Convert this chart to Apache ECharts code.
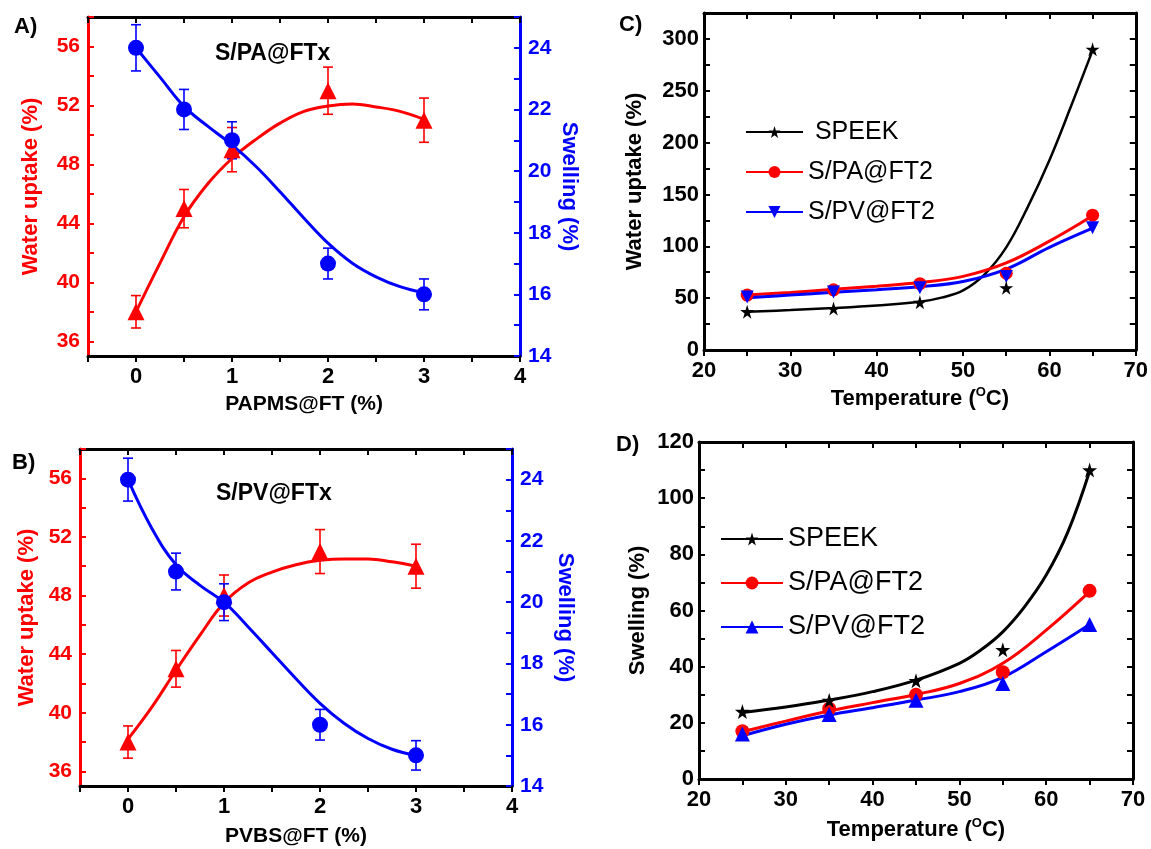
<!DOCTYPE html>
<html><head><meta charset="utf-8">
<script src="https://cdn.jsdelivr.net/npm/echarts@6/dist/echarts.min.js"></script>
<style>html,body{margin:0;padding:0;background:#fff}#c{width:1151px;height:849px}</style>
</head><body><div id="c"></div>
<script>
// ---------- Panel A / B data (content %) ----------
const loadX = [0, 0.5, 1, 2, 3];
const aWater = [38, 45, 49, 53, 51];
const aWaterErr = [1.1, 1.3, 1.5, 1.6, 1.5];
const aSwell = [24, 22, 21, 17, 16];
const aSwellErr = [0.75, 0.65, 0.6, 0.5, 0.5];
const bWater = [38, 43, 48, 51, 50];
const bWaterErr = [1.1, 1.25, 1.4, 1.5, 1.5];
const bSwell = [24, 21, 20, 16, 15];
const bSwellErr = [0.7, 0.6, 0.6, 0.5, 0.48];
// fitted curves
const fitLoadX = [0, 0.25, 0.5, 0.75, 1, 1.25, 1.5, 1.75, 2, 2.25, 2.5, 2.75, 3];
const aWaterFit = [38.0, 41.3, 44.45, 46.7, 48.4, 49.7, 50.8, 51.6, 51.96, 52.1, 51.9, 51.6, 51.06];
const aSwellFit = [24.0, 23.05, 22.1, 21.45, 20.85, 20.15, 19.33, 18.47, 17.66, 17.02, 16.57, 16.25, 16.05];
const bWaterFit = [38.2, 40.4, 42.9, 45.3, 47.5, 48.85, 49.6, 50.1, 50.4, 50.5, 50.5, 50.3, 50.0];
const bSwellFit = [24.0, 22.4, 21.22, 20.55, 20.0, 19.2, 18.35, 17.5, 16.7, 16.05, 15.55, 15.2, 15.0];

// ---------- Panel C / D data (temperature) ----------
const temps = [25, 35, 45, 55, 65];
const cSPEEK = [37, 40, 46, 60, 290];
const cSPA = [53, 58, 64, 74, 130];
const cSPV = [51, 56, 60, 71, 118];
const cSpeekFitX = [25, 30, 35, 40, 45, 47.5, 50, 52.5, 55, 57.5, 60, 62.5, 65];
const cSPEEKFit = [37, 38.5, 40.5, 43, 46.5, 50.5, 57.5, 73, 99, 138, 183, 235, 289];
const fitTX = [25, 30, 35, 40, 45, 50, 55, 60, 65];
const cSPAFit = [53, 55.5, 58.5, 61.5, 65, 71, 84, 105, 129.5];
const cSPVFit = [50.5, 53, 55.6, 58.2, 61, 66, 78, 99, 117.5];
const dSPEEK = [24, 28, 35, 46, 110];
const dSPA = [17, 25, 30, 38, 67];
const dSPV = [16, 23, 28, 34, 55];
const dSpeekFitX = [25, 30, 35, 40, 45, 50, 52.5, 55, 57.5, 60, 62.5, 65];
const dSPEEKFit = [23.7, 25.6, 28.1, 31.1, 35.2, 41.2, 46, 52.4, 61.3, 72.6, 88, 109.6];
const dSPAFit = [16.8, 20.6, 24.2, 27.2, 30.1, 34.0, 41.2, 53, 66.7];
const dSPVFit = [15.4, 19.5, 22.8, 25.4, 28.1, 31.1, 36.2, 45.3, 55];

// ---------- tick labels ----------
const loadLabels = [0, 1, 2, 3, 4];
const loadTicks = [-0.5, 0, 0.5, 1, 1.5, 2, 2.5, 3, 3.5, 4];
const waterLabels = [36, 40, 44, 48, 52, 56];
const waterTicks = [36, 38, 40, 42, 44, 46, 48, 50, 52, 54, 56, 58];
const swellLabels = [14, 16, 18, 20, 22, 24];
const swellTicks = [14, 15, 16, 17, 18, 19, 20, 21, 22, 23, 24, 25];
const tempLabels = [20, 30, 40, 50, 60, 70];
const tempTicks = [20, 25, 30, 35, 40, 45, 50, 55, 60, 65, 70];
const cLabels = [0, 50, 100, 150, 200, 250, 300];
const cTicks = [0, 25, 50, 75, 100, 125, 150, 175, 200, 225, 250, 275, 300, 325];
const dLabels = [0, 20, 40, 60, 80, 100, 120];
const dTicks = [0, 10, 20, 30, 40, 50, 60, 70, 80, 90, 100, 110, 120];

const RED = '#ff0000', BLUE = '#0000ff', BLACK = '#000000';
const FF = '"Liberation Sans", Arial, sans-serif';
const STAR = 'path://M50,0 L61,35 L98,35 L68,57 L79,91 L50,70 L21,91 L32,57 L2,35 L39,35 Z';
const DOWNTRI = 'path://M0,0 L100,0 L50,90 Z';

const zip = (xs, ys) => xs.map((x, i) => [x, ys[i]]);
const zip3 = (xs, ys, es) => xs.map((x, i) => [x, ys[i], es[i]]);

function xAx(grid, min, max, labels, ticks, pos, show, name, gap) {
  return {
    type: 'value', gridIndex: grid, min: min, max: max, position: pos,
    splitLine: { show: false },
    axisLine: { show: true, onZero: false, lineStyle: { color: BLACK, width: 3 } },
    axisTick: { show: true, inside: pos === 'top', length: 6, customValues: ticks, lineStyle: { color: BLACK, width: 2 } },
    axisLabel: { show: show, customValues: labels, margin: 10, color: BLACK, fontSize: 22, fontWeight: 'bold', fontFamily: FF },
    name: name || '', nameLocation: 'middle', nameGap: gap || 38,
    nameTextStyle: {
      color: BLACK, fontSize: 21, fontWeight: 'bold', fontFamily: FF,
      rich: {
        a: { fontSize: 22, fontWeight: 'bold', fontFamily: FF, color: BLACK, lineHeight: 26 },
        s: { fontSize: 13, fontWeight: 'bold', fontFamily: FF, color: BLACK, lineHeight: 13, verticalAlign: 'top' }
      }
    }
  };
}
function yAx(grid, min, max, labels, ticks, pos, show, color, name, gap, rot, fs, lmargin) {
  return {
    type: 'value', gridIndex: grid, min: min, max: max, position: pos,
    splitLine: { show: false },
    axisLine: { show: true, onZero: false, lineStyle: { color: color, width: 3 } },
    axisTick: { show: true, inside: true, length: 6, customValues: ticks, lineStyle: { color: color, width: 2 } },
    axisLabel: { show: show, customValues: labels, margin: lmargin || 8, color: color, fontSize: fs || 22, fontWeight: 'bold', fontFamily: FF },
    name: name || '', nameLocation: 'middle', nameGap: gap || 40, nameRotate: rot,
    nameTextStyle: { color: color, fontSize: 22, fontWeight: 'bold', fontFamily: FF }
  };
}

function errRender(params, api) {
  const x = api.value(0), y = api.value(1), e = api.value(2);
  const top = api.coord([x, y + e]);
  const bot = api.coord([x, y - e]);
  const cw = 5;
  const style = { stroke: api.visual('color'), lineWidth: 1.6 };
  return {
    type: 'group', children: [
      { type: 'line', shape: { x1: top[0], y1: top[1], x2: bot[0], y2: bot[1] }, style: style },
      { type: 'line', shape: { x1: top[0] - cw, y1: top[1], x2: top[0] + cw, y2: top[1] }, style: style },
      { type: 'line', shape: { x1: bot[0] - cw, y1: bot[1], x2: bot[0] + cw, y2: bot[1] }, style: style }
    ]
  };
}

function errSeries(xi, yi, data, color) {
  return { type: 'custom', xAxisIndex: xi, yAxisIndex: yi, renderItem: errRender, data: data,
    encode: { x: 0, y: 1 }, itemStyle: { color: color }, z: 2, silent: true };
}
function fitLine(name, xi, yi, data, color, width, symbol, rotate) {
  return { type: 'line', name: name, xAxisIndex: xi, yAxisIndex: yi, data: data, smooth: 0.4,
    showSymbol: false, symbol: symbol || 'none', symbolRotate: rotate || 0,
    lineStyle: { color: color, width: width }, itemStyle: { color: color }, z: 3, silent: true };
}
function pts(xi, yi, data, color, symbol, size, rotate) {
  return { type: 'scatter', xAxisIndex: xi, yAxisIndex: yi, data: data, symbol: symbol, symbolSize: size,
    symbolRotate: rotate || 0, itemStyle: { color: color, opacity: 1 }, z: 4, silent: true };
}

const option = {
  animation: false,
  backgroundColor: '#ffffff',
  grid: [
    { left: 88, top: 17, width: 432, height: 339 },
    { left: 80, top: 449, width: 432, height: 337 },
    { left: 704, top: 13, width: 433, height: 337 },
    { left: 699, top: 442, width: 434, height: 337 }
  ],
  xAxis: [
    xAx(0, -0.5, 4, loadLabels, loadTicks, 'bottom', true, 'PAPMS@FT (%)', 38),
    xAx(0, -0.5, 4, loadLabels, loadTicks, 'top', false),
    xAx(1, -0.5, 4, loadLabels, loadTicks, 'bottom', true, 'PVBS@FT (%)', 40),
    xAx(1, -0.5, 4, loadLabels, loadTicks, 'top', false),
    xAx(2, 20, 70, tempLabels, tempTicks, 'bottom', true, '{a|Temperature (}{s|O}{a|C)}', 36),
    xAx(2, 20, 70, tempLabels, tempTicks, 'top', false),
    xAx(3, 20, 70, tempLabels, tempTicks, 'bottom', true, '{a|Temperature (}{s|O}{a|C)}', 38),
    xAx(3, 20, 70, tempLabels, tempTicks, 'top', false)
  ],
  yAxis: [
    yAx(0, 35, 58, waterLabels, waterTicks, 'left', true, RED, 'Water uptake (%)', 46, 90, 21),
    yAx(0, 14, 25, swellLabels, swellTicks, 'right', true, BLUE, 'Swelling (%)', 38, -90, 21),
    yAx(1, 35, 58, waterLabels, waterTicks, 'left', true, RED, 'Water uptake (%)', 42, 90, 21),
    yAx(1, 14, 25, swellLabels, swellTicks, 'right', true, BLUE, 'Swelling (%)', 42, -90, 21),
    yAx(2, 0, 325, cLabels, cTicks, 'left', true, BLACK, 'Water uptake (%)', 58, 90, 22, 5),
    yAx(2, 0, 325, cLabels, cTicks, 'right', false, BLACK),
    yAx(3, 0, 120, dLabels, dTicks, 'left', true, BLACK, 'Swelling (%)', 50, 90, 22, 5),
    yAx(3, 0, 120, dLabels, dTicks, 'right', false, BLACK)
  ],
  legend: [
    { data: ['SPEEK', 'S/PA@FT2', 'S/PV@FT2'], orient: 'vertical', left: 740, top: 113,
      itemWidth: 57, itemHeight: 15, itemGap: 12, selectedMode: false,
      formatter: n => (n === 'SPEEK' ? ' SPEEK' : n),
      textStyle: { fontSize: 25, fontFamily: FF, color: BLACK, lineHeight: 28 } },
    { data: ['SPEEK ', 'S/PA@FT2 ', 'S/PV@FT2 '], orient: 'vertical', left: 715, top: 519,
      itemWidth: 62, itemHeight: 16, itemGap: 14, selectedMode: false,
      formatter: n => n.trim(),
      textStyle: { fontSize: 27, fontFamily: FF, color: BLACK, lineHeight: 30 } }
  ],
  graphic: [
    { type: 'text', left: 14, top: 16, style: { text: 'A)', font: 'bold 22px ' + FF, fill: BLACK } },
    { type: 'text', left: 12, top: 452, style: { text: 'B)', font: 'bold 22px ' + FF, fill: BLACK } },
    { type: 'text', left: 619, top: 14, style: { text: 'C)', font: 'bold 22px ' + FF, fill: BLACK } },
    { type: 'text', left: 616, top: 434, style: { text: 'D)', font: 'bold 22px ' + FF, fill: BLACK } },
    { type: 'text', left: 215, top: 42, style: { text: 'S/PA@FTx', font: 'bold 23px ' + FF, fill: BLACK } },
    { type: 'text', left: 216, top: 482, style: { text: 'S/PV@FTx', font: 'bold 23px ' + FF, fill: BLACK } }
  ],
  series: [
    // Panel A
    errSeries(0, 0, zip3(loadX, aWater, aWaterErr), RED),
    errSeries(0, 1, zip3(loadX, aSwell, aSwellErr), BLUE),
    fitLine('A water fit', 0, 0, zip(fitLoadX, aWaterFit), RED, 3),
    fitLine('A swelling fit', 0, 1, zip(fitLoadX, aSwellFit), BLUE, 3),
    pts(0, 0, zip(loadX, aWater), RED, 'triangle', 17),
    pts(0, 1, zip(loadX, aSwell), BLUE, 'circle', 16),
    // Panel B
    errSeries(2, 2, zip3(loadX, bWater, bWaterErr), RED),
    errSeries(2, 3, zip3(loadX, bSwell, bSwellErr), BLUE),
    fitLine('B water fit', 2, 2, zip(fitLoadX, bWaterFit), RED, 3),
    fitLine('B swelling fit', 2, 3, zip(fitLoadX, bSwellFit), BLUE, 3),
    pts(2, 2, zip(loadX, bWater), RED, 'triangle', 17),
    pts(2, 3, zip(loadX, bSwell), BLUE, 'circle', 16),
    // Panel C
    fitLine('SPEEK', 4, 4, zip(cSpeekFitX, cSPEEKFit), BLACK, 2.5, STAR),
    fitLine('S/PA@FT2', 4, 4, zip(fitTX, cSPAFit), RED, 3, 'circle'),
    fitLine('S/PV@FT2', 4, 4, zip(fitTX, cSPVFit), BLUE, 3, DOWNTRI),
    pts(4, 4, zip(temps, cSPA), RED, 'circle', 13),
    pts(4, 4, zip(temps, cSPV), BLUE, DOWNTRI, 13),
    pts(4, 4, zip(temps, cSPEEK), BLACK, STAR, 14),
    // Panel D
    fitLine('SPEEK ', 6, 6, zip(dSpeekFitX, dSPEEKFit), BLACK, 3, STAR),
    fitLine('S/PA@FT2 ', 6, 6, zip(fitTX, dSPAFit), RED, 3, 'circle'),
    fitLine('S/PV@FT2 ', 6, 6, zip(fitTX, dSPVFit), BLUE, 3, 'triangle'),
    pts(6, 6, zip(temps, dSPA), RED, 'circle', 14),
    pts(6, 6, zip(temps, dSPV), BLUE, 'triangle', 15),
    pts(6, 6, zip(temps, dSPEEK), BLACK, STAR, 15)
  ]
};
const chart = echarts.init(document.getElementById('c'), null, { renderer: 'canvas' });
chart.setOption(option);
</script>
</body></html>
